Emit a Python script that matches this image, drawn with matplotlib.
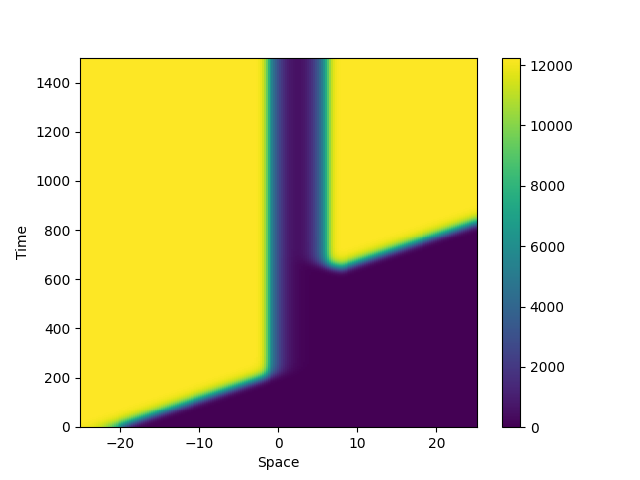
import numpy as np
import matplotlib
matplotlib.use("Agg")
import matplotlib.pyplot as plt

# domain
x_range = [-25, 25]
t_range = [0, 1500]
n_x = 201
n_t = 376

# peak value of the field
u_max = 12250

# left front: starts at x0 at t=0, moves right, stops at x_stop
left_front_x0 = -20.2
left_front_stop = -1.07
# right front: vertical edge, bottom edge passes through these (x, t) points
right_front_edge = 5.9
right_bottom_x = [8.0, 25.0]
right_bottom_t = [645.0, 829.0]

# front widths (space units / time units), high side then low side
w_space = [0.3, 0.9]
w_time = [12.0, 5.0]
# how fast the arrival time climbs in the tails beyond the corners (time per unit)
tail_climb = [6.0, 6.0]
# smoothing (space units, time units)
blur = [0.35, 12.0]


def profile(z, w_in, w_out):
    # z < 0 inside (high), z > 0 outside (low)
    w = np.where(z < 0, w_in, w_out)
    return 1.0 / (1.0 + np.exp(np.clip(z / w, -50, 50)))


def smooth(a, sigma, axis):
    r = int(np.ceil(3 * sigma))
    k = np.exp(-0.5 * (np.arange(-r, r + 1) / sigma) ** 2)
    k /= k.sum()
    pad = [(0, 0), (0, 0)]
    pad[axis] = (r, r)
    ap = np.pad(a, pad, mode="edge")
    return np.apply_along_axis(lambda v: np.convolve(v, k, mode="valid"), axis, ap)


x = np.linspace(x_range[0], x_range[1], n_x)
t = np.linspace(t_range[0], t_range[1], n_t)
X, T = np.meshgrid(x, t)

slope = (right_bottom_t[1] - right_bottom_t[0]) / (right_bottom_x[1] - right_bottom_x[0])
speed = 1.0 / slope

# left region
t_stop = (left_front_stop - left_front_x0) / speed
arrive_left = np.where(X <= left_front_stop, (X - left_front_x0) / speed,
                       t_stop + tail_climb[0] * (X - left_front_stop))
u1 = profile(arrive_left - T, w_time[0], w_time[1]) * profile(X - left_front_stop, w_space[0], w_space[1])

# right region
arrive_right = np.where(X >= right_bottom_x[0],
                        right_bottom_t[0] + slope * (X - right_bottom_x[0]),
                        right_bottom_t[0] + tail_climb[1] * (right_bottom_x[0] - X))
u2 = profile(arrive_right - T, w_time[0], w_time[1]) * profile(right_front_edge - X, w_space[0], w_space[1])

U = np.clip(u1 + u2, 0, 1)
dx = x[1] - x[0]
dt = t[1] - t[0]
U = smooth(U, blur[0] / dx, 1)
U = smooth(U, blur[1] / dt, 0)
U = U * u_max

fig, ax = plt.subplots()
mesh = ax.pcolormesh(x, t, U, shading="auto", cmap="viridis", vmin=0, vmax=u_max)
fig.colorbar(mesh)
ax.set_xlabel("Space")
ax.set_ylabel("Time")
fig.savefig("out.png")
